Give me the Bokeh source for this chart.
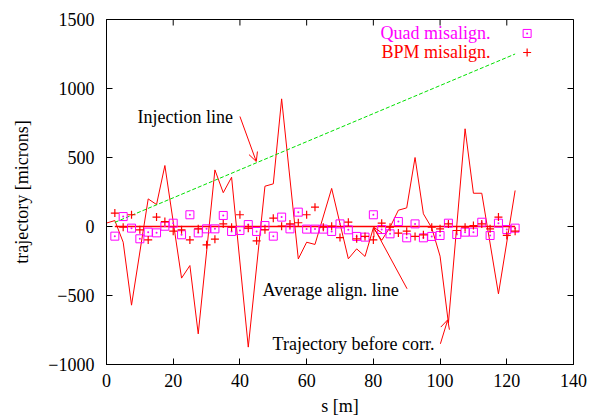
import math
from bokeh.plotting import figure
from bokeh.models import Arrow, OpenHead, Range1d, FixedTicker
from bokeh.core.properties import value
from bokeh.embed import file_html
from bokeh.resources import INLINE

FONT = "Liberation Serif"
FS = "18px"

# ---- data ----
traj_s = [0, 2.5, 5, 7.5, 12.5, 15, 17.5, 22.5, 25, 27.5, 32.5, 35, 37.5, 42.5,
          47.5, 50, 52.5, 57.5, 60, 62.5, 67.5, 72.5, 75, 77.5, 80, 82.5, 85,
          87.5, 90, 92.5, 95, 97.5, 100, 102.5, 107.5, 110, 112.5, 117.5, 122.5]
traj_y = [25, 43, -114, -570, 200, 159, 442, -374, -283, -778, 410, 245, 357, -874,
          292, 309, 925, -235, -114, -130, 276, -234, -162, -217, -10, -100, -5,
          118, 135, 500, 92, -10, -215, -700, 708, 241, 241, -488, 261]

elem_s = [2.5, 5, 7.5, 10, 12.5, 15, 17.5, 20, 22.5, 25, 27.5, 30, 32.5, 35, 37.5,
          40, 42.5, 45, 47.5, 50, 52.5, 55, 57.5, 60, 62.5, 65, 67.5, 70, 72.5, 75,
          77.5, 80, 82.5, 85, 87.5, 90, 92.5, 95, 97.5, 100, 102.5, 105, 107.5, 110,
          112.5, 115, 117.5, 120, 122.5]
bpm_y = [97, -5, 85, -24, -97, 68, 36, -34, -24, -97, -17, -133, -92, 19, -5,
         85, -12, -104, -24, 60, 2, 19, 27, 85, 140, -5, 2, -80, 31, -89,
         -72, -97, 24, -5, -48, -34, -72, -60, -5, -17, 19, -29, -5, 7,
         19, -17, 68, -65, -34]
quad_y = [-70, 72, -12, -89, -41, -46, 2, 24, -60, 85, -46, -17, -17, 80, -36,
          -29, 14, -36, 7, -70, 68, -17, 104, -19, -19, -19, -36, 19, -24, -72,
          -77, 85, -22, -53, 36, -82, 19, -82, -72, -65, 24, -58, -41, -41,
          31, -65, 24, -22, -12]

inj_s = [2.5, 122.5]
inj_y = [30, 1250]
avg_s = [2.5, 122.5]
avg_y = [0, 0]

x_ticks = [0, 20, 40, 60, 80, 100, 120, 140]
y_ticks = [-1000, -500, 0, 500, 1000, 1500]

labels = ["Injection line", "Average align. line", "Trajectory before corr."]
label_x = [9.3, 46.8, 49.8]
label_y = [797, -457, -855]
arrow_start = [(40.0, 797), (90.1, -451), (100.1, -850)]
arrow_end = [(44.9, 471), (80.1, -5), (102.3, -676)]

legend_names = ["Quad misalign.", "BPM misalign."]
legend_colors = ["#ff00ff", "#ff0000"]
legend_text_x = 115.1
legend_sym_x = 126.1
legend_y = [1399, 1261]

# ---- figure ----
p = figure(width=594, height=419, x_range=Range1d(0, 140), y_range=Range1d(-1000, 1500),
           output_backend="svg", toolbar_location=None,
           min_border_left=106, min_border_top=19, min_border_right=21, min_border_bottom=55)
p.grid.visible = False
p.outline_line_color = "black"
p.outline_line_width = 1
p.background_fill_color = "white"
p.border_fill_color = "white"

def style_axis(ax, ticks):
    ax.ticker = FixedTicker(ticks=ticks)
    ax.major_tick_in = 6
    ax.major_tick_out = 0
    ax.minor_tick_line_color = None
    ax.axis_line_color = "black"
    ax.major_tick_line_color = "black"
    ax.major_label_text_font = FONT
    ax.major_label_text_font_size = FS
    ax.major_label_text_color = "black"
    ax.axis_label_text_font = FONT
    ax.axis_label_text_font_size = FS
    ax.axis_label_text_font_style = "normal"
    ax.axis_label_text_color = "black"

style_axis(p.xaxis[0], x_ticks)
style_axis(p.yaxis[0], y_ticks)
p.xaxis[0].axis_label = "s [m]"
p.yaxis[0].axis_label = "trajectory [microns]"
p.xaxis[0].major_label_standoff = 9
p.yaxis[0].major_label_standoff = 12
p.xaxis[0].axis_label_standoff = 6
p.yaxis[0].axis_label_standoff = 13

# mirror ticks on top and right edges (glyphs are clipped to the frame)
p.scatter(x_ticks, [p.y_range.end] * len(x_ticks), marker="dash", angle=math.pi / 2,
          size=12, line_color="black", line_width=1)
p.scatter([p.x_range.end] * len(y_ticks), y_ticks, marker="dash",
          size=12, line_color="black", line_width=1)

# lines
p.line(traj_s, traj_y, line_color="#ff0000", line_width=1)
p.line(avg_s, avg_y, line_color="#ff0000", line_width=1.5)
p.line(inj_s, inj_y, line_color="#00e000", line_width=1, line_dash="4 2")

# markers
p.scatter(elem_s, quad_y, marker="square_dot", size=8, fill_color=None,
          line_color="#ff00ff", line_width=1)
p.scatter(elem_s, bpm_y, marker="cross", size=8, line_color="#ff0000", line_width=1.2)

# annotations
p.text(x=label_x, y=label_y, text=labels, text_font=value(FONT), text_font_size=FS,
       text_color="black", text_align="left", text_baseline="middle")
for (xs, ys), (xe, ye) in zip(arrow_start, arrow_end):
    p.add_layout(Arrow(end=OpenHead(size=9, line_color="#ff0000", line_width=1),
                       x_start=xs, y_start=ys, x_end=xe, y_end=ye,
                       line_color="#ff0000", line_width=1))

# legend (gnuplot style)
p.text(x=[legend_text_x] * 2, y=legend_y, text=legend_names, text_color=legend_colors,
       text_font=value(FONT), text_font_size=FS, text_align="right", text_baseline="middle")
p.scatter([legend_sym_x], [legend_y[0]], marker="square_dot", size=8, fill_color=None,
          line_color="#ff00ff", line_width=1)
p.scatter([legend_sym_x], [legend_y[1]], marker="cross", size=8, line_color="#ff0000", line_width=1.2)

open("out.html", "w").write(file_html(p, INLINE))
